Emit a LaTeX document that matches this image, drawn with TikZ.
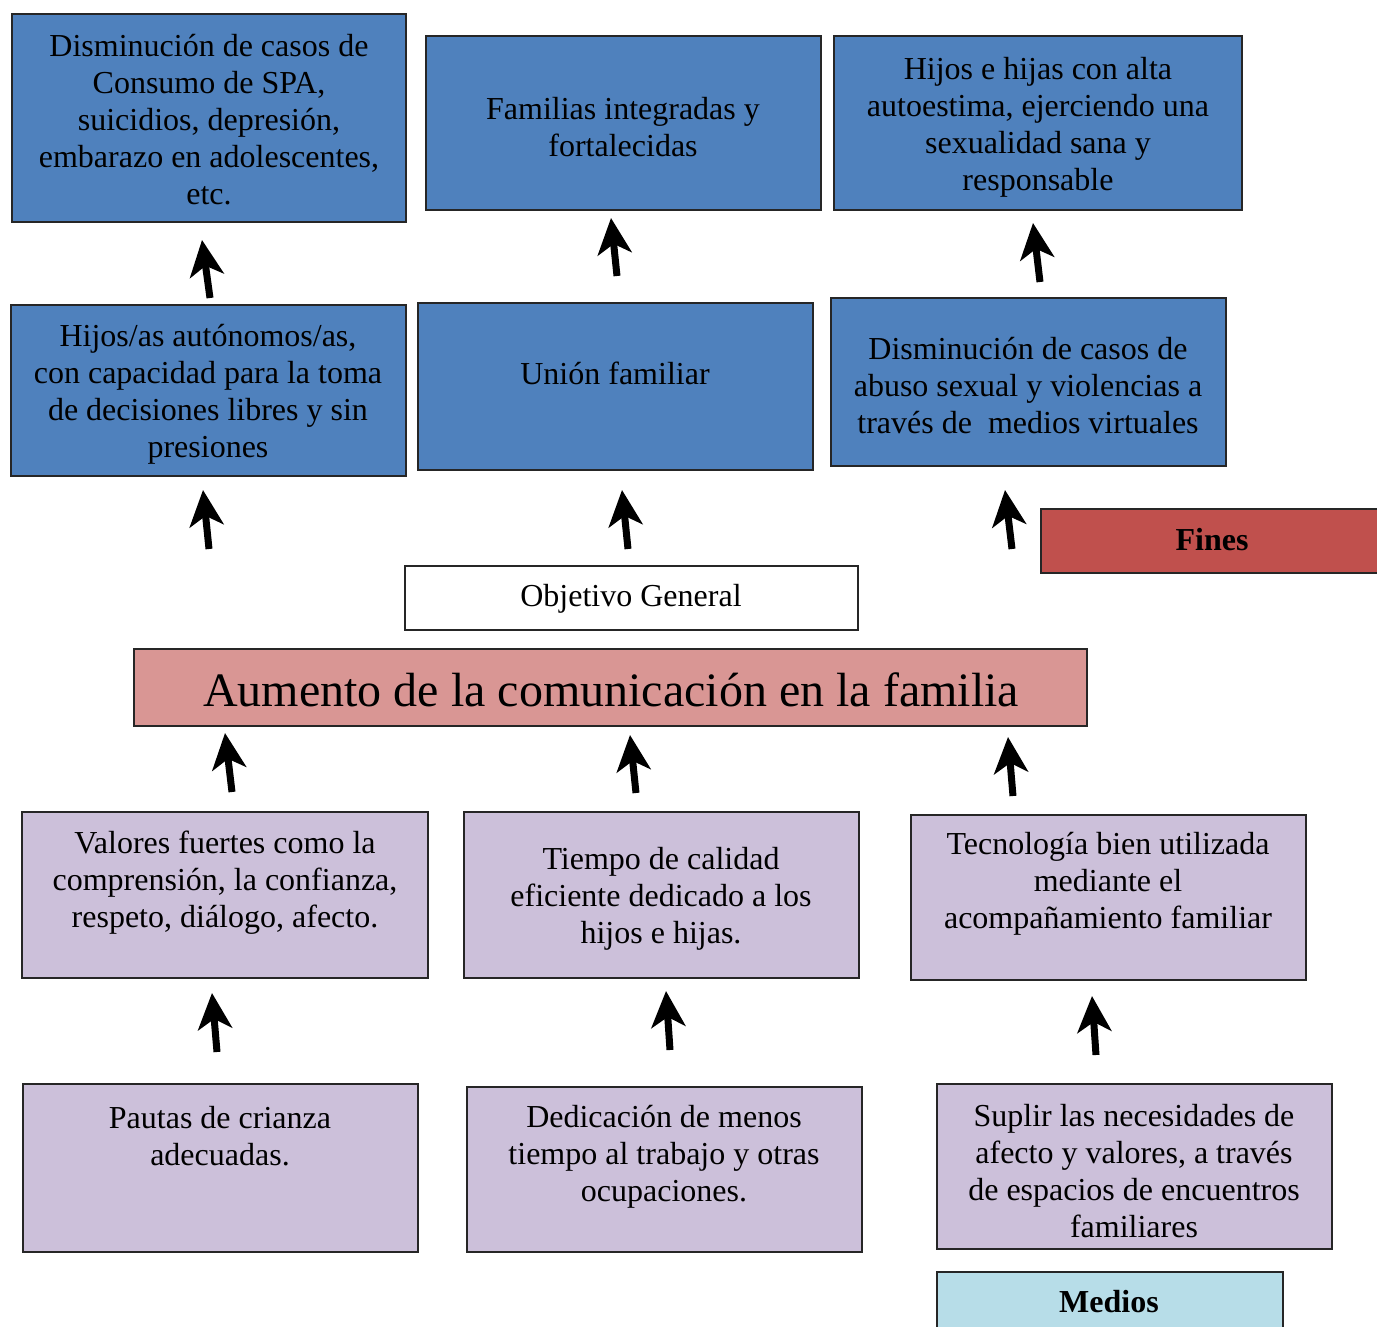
\documentclass[tikz,border=0pt]{standalone}
\usepackage{fontspec}
\setmainfont{Liberation Serif}
\usetikzlibrary{arrows.meta}
\definecolor{bblue}{HTML}{4F81BD}
\definecolor{fred}{HTML}{C0504D}
\definecolor{apink}{HTML}{D99694}
\definecolor{lpurple}{HTML}{CCC0DA}
\definecolor{lcyan}{HTML}{B7DDE8}
\tikzset{
  box/.style={draw=black!85, line width=1.6pt, inner sep=0pt},
  bluebox/.style={box, fill=bblue},
  purpbox/.style={box, fill=lpurple},
  txt/.style={align=center, font=\fontsize{32}{37}\selectfont, inner sep=0pt},
  lbl/.style={font=\fontsize{32}{36}\selectfont\bfseries, inner sep=0pt},
  arw/.style={line width=7pt, -{Stealth[length=36pt,width=34pt,inset=10pt]}},
}
\newcommand{\boxat}[6]{% style, name, x1, y1, x2, y2
  \node[#1, minimum width={#5-#3}, minimum height={#6-#4}] (#2) at ({(#3+#5)/2},{(#4+#6)/2}) {};}
\begin{document}
\begin{tikzpicture}[x=1pt,y=-1pt]
\useasboundingbox (0,0) rectangle (1377,1327);
% Row A
\boxat{bluebox}{a1}{12}{14}{406}{222}
\boxat{bluebox}{a2}{426}{36}{821}{210}
\boxat{bluebox}{a3}{834}{36}{1242}{210}
\node[txt] (ta1) at (209,120) {Disminución de casos de\\Consumo de SPA,\\suicidios, depresión,\\embarazo en adolescentes,\\etc.};
\node[txt] (ta2) at (623,127) {Familias integradas y\\fortalecidas};
\node[txt] (ta3) at (1038,127) {Hijos e hijas con alta\\autoestima, ejerciendo una\\sexualidad sana y\\responsable};
% Row B
\boxat{bluebox}{b1}{11}{305}{406}{476}
\boxat{bluebox}{b2}{418}{303}{813}{470}
\boxat{bluebox}{b3}{831}{298}{1226}{466}
\node[txt] (tb1) at (208,394) {Hijos/as autónomos/as,\\con capacidad para la toma\\de decisiones libres y sin\\presiones};
\node[txt] (tb2) at (615,373) {Unión familiar};
\node[txt] (tb3) at (1028,386) {Disminución de casos de\\abuso sexual y violencias a\\través de\ \ medios virtuales};
% Fines
\node[box, fill=fred, minimum width=360, minimum height=64, anchor=north west] (fines) at (1040,508) {};
\node[lbl] (tfines) at (1212,540) {Fines};
% Objetivo general
\boxat{box, fill=white}{og}{405}{566}{858}{630}
\node[txt] (tog) at (631,599) {Objetivo General};
\boxat{box, fill=apink}{au}{134}{649}{1087}{726}
\node[txt, font=\fontsize{48}{54}\selectfont] (tau) at (611,690) {Aumento de la comunicación en la familia};
% Row C
\boxat{purpbox}{c1}{22}{812}{428}{978}
\boxat{purpbox}{c2}{464}{812}{859}{978}
\boxat{purpbox}{c3}{911}{815}{1306}{980}
\node[txt] (tc1) at (225,883) {Valores fuertes como la\\comprensión, la confianza,\\respeto, diálogo, afecto.};
\node[txt] (tc2) at (661,899) {Tiempo de calidad\\eficiente dedicado a los\\hijos e hijas.};
\node[txt] (tc3) at (1108,884) {Tecnología bien utilizada\\mediante el\\acompañamiento familiar};
% Row D
\boxat{purpbox}{d1}{23}{1084}{418}{1252}
\boxat{purpbox}{d2}{467}{1087}{862}{1252}
\boxat{purpbox}{d3}{937}{1084}{1332}{1249}
\node[txt] (td1) at (220,1136) {Pautas de crianza\\adecuadas.};
\node[txt] (td2) at (664,1157) {Dedicación de menos\\tiempo al trabajo y otras\\ocupaciones.};
\node[txt] (td3) at (1134,1171) {Suplir las necesidades de\\afecto y valores, a través\\de espacios de encuentros\\familiares};
% Medios
\node[box, fill=lcyan, minimum width=346, minimum height=80, anchor=north west] (medios) at (936,1271) {};
\node[lbl] (tmedios) at (1109,1302) {Medios};
% Arrows
\foreach \n/\tx/\ty/\hx/\hy in {
  r1/210/298/202/240, r2/617/276/611/218, r3/1040/282/1033/223,
  s1/209/549/203/490, s2/628/549/622/490, s3/1012/549/1005/490,
  t1/232/792/225/733, t2/636/793/630/735, t3/1013/796/1008/737,
  u1/217/1052/212/993, u2/670/1050/666/991, u3/1096/1055/1092/996}{
  \coordinate (\n a) at (\tx,\ty);
  \coordinate (\n b) at (\hx,\hy);
  \draw[arw] (\n a) -- (\n b);
}
\end{tikzpicture}
\end{document}
